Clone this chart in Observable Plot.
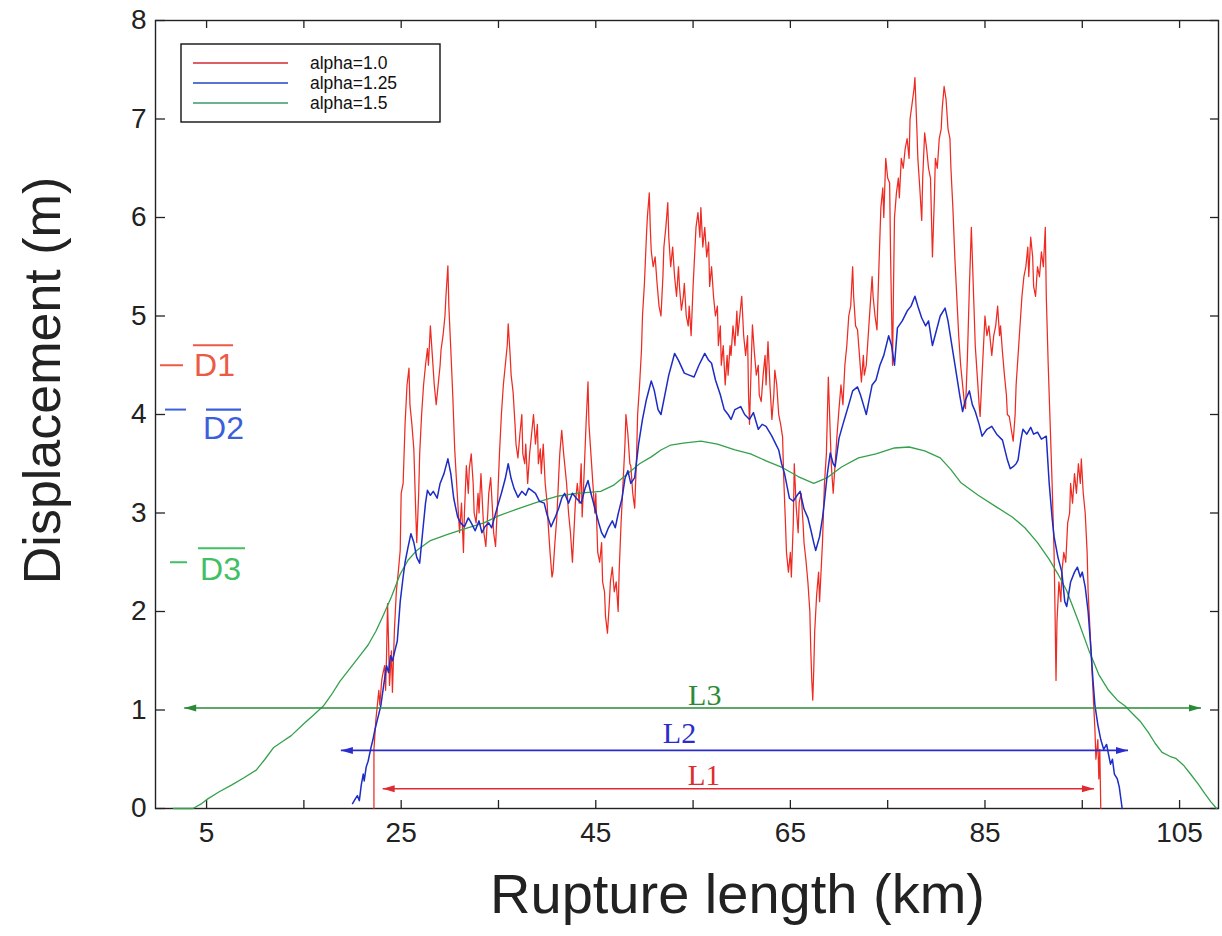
<!DOCTYPE html>
<html>
<head>
<meta charset="utf-8">
<script src="https://cdn.jsdelivr.net/npm/d3@7"></script>
<script src="https://cdn.jsdelivr.net/npm/@observablehq/plot@0.6"></script>
<style>
  body { margin: 0; background: #fff; }
  #chart { width: 1222px; height: 936px; }
  #chart svg { display: block; }
</style>
</head>
<body>
<div id="chart"></div>
<script>
// ---------- data (km, displacement m) ----------
const red = [[22.2,0],[22.2,0.6],[22.4,0.9],[22.5,1.0],[22.7,1.2],[22.8,1.05],[23.0,1.3],[23.1,1.36],[23.3,1.45],[23.4,1.2],[23.5,1.57],[23.6,2.08],[23.7,1.7],[23.8,1.25],[24.0,1.6],[24.1,1.18],[24.3,1.8],[24.5,2.2],[24.7,2.4],[24.9,2.62],[25.0,3.2],[25.2,3.3],[25.4,3.9],[25.6,4.3],[25.8,4.47],[25.9,4.1],[26.1,3.9],[26.3,3.65],[26.5,3.0],[26.6,2.7],[26.8,3.2],[26.9,3.6],[27.1,4.0],[27.3,4.3],[27.5,4.5],[27.7,4.67],[27.8,4.5],[28.0,4.9],[28.2,4.6],[28.4,4.3],[28.6,4.1],[28.8,4.3],[29.0,4.5],[29.1,4.66],[29.3,4.8],[29.5,5.0],[29.6,5.2],[29.8,5.51],[29.9,5.1],[30.1,4.66],[30.3,4.2],[30.5,3.65],[30.7,3.3],[31.0,2.8],[31.2,3.1],[31.4,2.6],[31.5,3.0],[31.7,3.48],[31.9,3.2],[32.0,3.45],[32.2,3.6],[32.4,3.3],[32.5,3.0],[32.7,2.9],[32.9,3.2],[33.0,3.0],[33.2,3.4],[33.4,3.0],[33.5,2.8],[33.7,2.66],[33.9,3.0],[34.0,3.2],[34.2,3.36],[34.4,3.0],[34.5,2.8],[34.7,2.66],[34.9,3.1],[35.1,3.6],[35.3,4.0],[35.5,4.3],[35.7,4.5],[35.9,4.7],[36.0,4.92],[36.2,4.6],[36.3,4.4],[36.5,4.23],[36.7,3.9],[36.8,3.7],[37.0,3.56],[37.2,3.8],[37.4,4.0],[37.5,3.6],[37.7,3.5],[37.8,3.7],[38.0,3.3],[38.2,3.6],[38.4,3.8],[38.6,4.0],[38.8,3.7],[39.0,3.9],[39.1,3.5],[39.3,3.65],[39.4,3.4],[39.6,3.7],[39.8,3.3],[40.0,3.1],[40.1,2.9],[40.3,2.6],[40.5,2.35],[40.6,2.4],[40.8,2.7],[41.0,2.96],[41.2,3.4],[41.3,3.6],[41.5,3.84],[41.7,3.6],[41.9,3.4],[42.0,3.3],[42.2,3.0],[42.4,2.8],[42.6,2.5],[42.8,2.9],[42.9,3.1],[43.1,3.3],[43.3,3.1],[43.5,3.5],[43.6,2.96],[43.8,3.4],[44.0,3.9],[44.2,4.33],[44.3,3.9],[44.5,3.6],[44.7,3.3],[44.9,3.0],[45.0,3.2],[45.2,2.6],[45.4,2.5],[45.6,2.7],[45.7,2.3],[45.9,2.2],[46.0,1.95],[46.2,1.78],[46.4,2.1],[46.5,2.3],[46.7,2.45],[46.9,2.2],[47.1,2.3],[47.3,2.0],[47.4,2.4],[47.6,2.9],[47.8,3.3],[48.0,3.7],[48.1,4.0],[48.3,3.8],[48.5,3.5],[48.6,3.48],[48.8,3.2],[49.0,3.05],[49.2,3.6],[49.3,4.0],[49.5,4.3],[49.7,4.66],[49.8,5.0],[50.0,5.33],[50.2,5.8],[50.3,6.0],[50.5,6.25],[50.6,5.9],[50.7,5.66],[50.9,5.5],[51.1,5.6],[51.3,5.33],[51.5,5.1],[51.7,5.0],[51.9,5.4],[52.0,5.7],[52.2,5.9],[52.4,6.15],[52.5,5.8],[52.7,5.5],[52.9,5.7],[53.1,5.4],[53.3,5.2],[53.5,5.5],[53.6,5.3],[53.8,5.06],[54.0,5.2],[54.1,5.33],[54.3,5.0],[54.5,4.9],[54.6,5.1],[54.8,4.8],[55.0,5.3],[55.2,5.7],[55.3,5.9],[55.5,6.05],[55.7,5.8],[55.8,6.1],[56.0,5.7],[56.2,5.9],[56.4,5.6],[56.6,5.75],[56.7,5.3],[56.9,5.5],[57.1,5.2],[57.3,5.0],[57.5,5.1],[57.6,4.7],[57.8,4.9],[57.9,4.5],[58.1,4.7],[58.3,4.3],[58.5,4.6],[58.6,4.4],[58.8,4.7],[58.9,4.6],[59.1,4.9],[59.3,4.7],[59.5,5.05],[59.6,4.8],[59.8,5.0],[60.0,5.2],[60.2,4.8],[60.4,4.6],[60.6,4.8],[60.7,4.2],[60.8,3.9],[61.0,4.6],[61.1,4.91],[61.3,4.63],[61.5,4.4],[61.7,4.5],[61.8,4.2],[62.0,4.13],[62.2,4.4],[62.4,4.6],[62.5,4.3],[62.7,4.74],[62.9,4.3],[63.1,3.95],[63.3,4.2],[63.4,4.45],[63.6,4.3],[63.8,4.0],[64.0,3.9],[64.2,3.77],[64.3,3.4],[64.5,2.88],[64.6,2.6],[64.8,2.4],[65.0,2.6],[65.1,2.35],[65.3,2.9],[65.4,3.5],[65.6,3.06],[65.8,2.8],[65.9,3.1],[66.1,3.2],[66.3,2.9],[66.4,2.7],[66.6,2.52],[66.8,2.3],[67.0,2.0],[67.1,1.6],[67.2,1.3],[67.3,1.1],[67.4,1.4],[67.5,1.8],[67.7,2.17],[67.9,2.4],[68.0,2.1],[68.2,2.5],[68.3,2.7],[68.5,3.3],[68.7,3.6],[68.9,4.38],[69.1,3.8],[69.2,3.5],[69.4,3.2],[69.6,3.5],[69.8,3.8],[70.0,4.06],[70.2,4.3],[70.4,4.1],[70.6,4.5],[70.8,4.7],[71.0,5.0],[71.2,5.1],[71.4,5.5],[71.5,5.2],[71.7,4.9],[71.9,4.86],[72.1,4.6],[72.3,4.33],[72.5,4.6],[72.6,4.4],[72.8,4.5],[73.0,4.8],[73.2,5.1],[73.4,5.4],[73.5,5.2],[73.7,5.0],[73.9,4.86],[74.1,5.5],[74.3,6.1],[74.5,6.3],[74.6,6.0],[74.8,6.6],[75.0,6.4],[75.2,6.35],[75.3,5.6],[75.5,4.5],[75.6,5.3],[75.7,6.0],[75.9,6.25],[76.1,6.4],[76.2,6.2],[76.4,6.6],[76.6,6.5],[76.8,6.7],[77.0,6.8],[77.2,6.6],[77.3,7.0],[77.5,7.15],[77.7,7.3],[77.8,7.42],[78.0,6.9],[78.1,6.6],[78.3,6.3],[78.5,5.97],[78.6,6.4],[78.8,6.86],[79.0,6.7],[79.2,6.5],[79.4,6.4],[79.5,6.0],[79.6,5.6],[79.8,6.2],[79.9,6.6],[80.1,6.5],[80.3,6.8],[80.5,6.9],[80.6,7.1],[80.8,7.33],[81.0,7.2],[81.2,6.9],[81.4,6.8],[81.5,6.5],[81.7,6.1],[81.9,5.6],[82.1,5.2],[82.3,4.8],[82.5,4.5],[82.7,4.3],[82.9,4.1],[83.0,4.06],[83.2,4.6],[83.4,5.3],[83.6,5.9],[83.8,5.3],[84.0,4.7],[84.2,4.4],[84.4,4.1],[84.5,3.98],[84.7,4.4],[84.9,4.8],[85.0,5.0],[85.2,4.8],[85.4,4.9],[85.7,4.6],[85.9,4.8],[86.1,4.9],[86.3,5.1],[86.5,4.8],[86.6,4.9],[86.8,4.63],[87.0,4.4],[87.2,4.2],[87.3,4.0],[87.5,3.98],[87.7,3.85],[87.9,3.73],[88.1,4.0],[88.2,4.3],[88.4,4.6],[88.6,4.9],[88.8,5.2],[89.0,5.4],[89.2,5.5],[89.4,5.7],[89.5,5.4],[89.7,5.8],[89.9,5.6],[90.0,5.3],[90.2,5.2],[90.4,5.5],[90.6,5.4],[90.8,5.65],[91.0,5.5],[91.2,5.9],[91.3,5.2],[91.5,4.5],[91.7,3.9],[91.9,3.3],[92.1,2.6],[92.2,2.0],[92.3,1.3],[92.4,1.9],[92.6,2.3],[92.8,2.1],[92.9,2.4],[93.1,2.6],[93.3,2.5],[93.5,2.9],[93.7,3.0],[93.8,3.3],[94.0,3.1],[94.2,3.4],[94.4,3.2],[94.6,3.5],[94.8,3.3],[94.9,3.55],[95.1,3.2],[95.3,3.0],[95.5,2.6],[95.6,2.2],[95.8,1.8],[95.9,1.6],[96.1,1.2],[96.3,0.8],[96.4,0.5],[96.6,0.7],[96.7,0.3],[96.8,0.6],[96.9,0]];

const blue = [[20.0,0.05],[20.3,0.1],[20.5,0.13],[20.7,0.08],[20.9,0.24],[21.1,0.35],[21.2,0.28],[21.4,0.42],[21.6,0.48],[21.9,0.62],[22.1,0.7],[22.3,0.8],[22.6,0.92],[22.9,1.04],[23.2,1.25],[23.5,1.45],[23.7,1.38],[23.9,1.55],[24.1,1.5],[24.4,1.62],[24.6,1.7],[24.9,2.1],[25.2,2.35],[25.4,2.5],[25.7,2.65],[26.0,2.79],[26.3,2.7],[26.6,2.55],[26.9,2.49],[27.2,2.8],[27.5,3.1],[27.7,3.23],[28.0,3.18],[28.3,3.22],[28.7,3.15],[29.0,3.3],[29.4,3.4],[29.8,3.55],[30.1,3.4],[30.4,3.15],[30.8,2.96],[31.1,2.9],[31.5,2.86],[31.9,2.95],[32.2,2.9],[32.6,2.82],[33.0,2.92],[33.3,2.8],[33.6,2.86],[34.0,2.9],[34.3,2.85],[34.6,2.96],[35.0,3.1],[35.3,3.2],[35.7,3.35],[36.0,3.5],[36.3,3.35],[36.6,3.25],[37.0,3.16],[37.4,3.22],[37.8,3.18],[38.1,3.25],[38.4,3.23],[38.8,3.2],[39.2,3.12],[39.7,3.1],[40.0,2.98],[40.4,2.86],[40.8,2.95],[41.2,3.05],[41.5,3.15],[41.8,3.2],[42.2,3.1],[42.6,3.2],[43.0,3.15],[43.5,3.1],[43.9,3.25],[44.2,3.33],[44.5,3.2],[44.9,3.05],[45.3,2.9],[45.6,2.8],[45.9,2.75],[46.3,2.85],[46.7,2.92],[47.0,2.85],[47.3,2.99],[47.7,3.15],[48.0,3.35],[48.3,3.43],[48.6,3.3],[49.0,3.36],[49.4,3.7],[49.8,3.95],[50.2,4.15],[50.7,4.34],[51.0,4.25],[51.4,4.05],[51.7,4.0],[52.1,4.2],[52.5,4.4],[53.1,4.62],[53.5,4.55],[54.1,4.42],[54.6,4.4],[55.1,4.38],[55.6,4.5],[56.2,4.62],[56.6,4.55],[56.9,4.52],[57.3,4.35],[57.8,4.2],[58.2,4.05],[58.6,4.0],[58.9,3.95],[59.3,4.05],[59.9,4.08],[60.3,4.0],[60.8,3.95],[61.2,4.02],[61.7,3.85],[62.1,3.9],[62.5,3.88],[63.1,3.78],[63.5,3.7],[63.8,3.64],[64.1,3.5],[64.4,3.4],[64.9,3.15],[65.3,3.12],[65.7,3.18],[66.0,3.22],[66.4,3.04],[66.8,2.95],[67.1,2.83],[67.4,2.7],[67.6,2.62],[68.0,2.76],[68.3,2.95],[68.5,3.12],[68.8,3.4],[69.1,3.61],[69.4,3.5],[69.6,3.47],[70.0,3.76],[70.4,3.9],[70.7,4.0],[71.0,4.1],[71.4,4.24],[71.9,4.28],[72.2,4.2],[72.5,4.1],[72.8,4.0],[73.1,4.15],[73.4,4.3],[73.8,4.35],[74.2,4.5],[74.6,4.6],[75.1,4.8],[75.4,4.7],[75.7,4.5],[76.0,4.88],[76.5,4.95],[77.0,5.05],[77.4,5.1],[77.8,5.2],[78.1,5.1],[78.5,4.98],[78.9,4.9],[79.2,4.95],[79.6,4.7],[80.0,4.85],[80.4,5.0],[80.9,5.08],[81.2,4.95],[81.6,4.7],[82.0,4.45],[82.4,4.2],[82.7,4.03],[83.0,4.15],[83.4,4.24],[83.7,4.1],[84.0,4.03],[84.4,3.9],[84.7,3.78],[85.2,3.85],[85.7,3.88],[86.2,3.8],[86.8,3.74],[87.3,3.54],[87.6,3.45],[87.9,3.47],[88.2,3.5],[88.4,3.54],[88.7,3.75],[88.9,3.85],[89.3,3.8],[89.7,3.87],[90.0,3.8],[90.4,3.82],[90.8,3.75],[91.3,3.78],[91.6,3.3],[91.9,2.95],[92.1,2.76],[92.5,2.55],[92.9,2.4],[93.2,2.1],[93.4,2.05],[93.8,2.3],[94.2,2.4],[94.5,2.45],[94.8,2.35],[95.0,2.4],[95.3,2.25],[95.6,2.0],[95.9,1.6],[96.1,1.3],[96.3,1.05],[96.6,0.85],[96.9,0.7],[97.2,0.6],[97.5,0.65],[97.7,0.55],[97.9,0.45],[98.1,0.5],[98.3,0.35],[98.6,0.3],[98.8,0.22],[99.1,0]];

const green = [[1.6,0],[3.6,0],[4.5,0.05],[5.0,0.09],[6.3,0.17],[7.6,0.24],[8.8,0.31],[10.1,0.39],[11.0,0.5],[11.9,0.62],[12.8,0.68],[13.7,0.74],[15.1,0.87],[16.0,0.95],[17.0,1.04],[17.8,1.15],[18.7,1.29],[19.8,1.43],[20.9,1.57],[21.6,1.66],[22.4,1.8],[23.2,1.97],[24.0,2.15],[24.9,2.38],[25.7,2.52],[26.6,2.62],[28.0,2.72],[29.7,2.78],[31.5,2.84],[33.5,2.9],[35.0,2.97],[36.9,3.04],[39.0,3.11],[41.0,3.17],[43.0,3.2],[45.5,3.22],[46.8,3.28],[48.3,3.4],[49.5,3.5],[50.7,3.57],[51.7,3.64],[52.7,3.69],[54.0,3.71],[55.8,3.73],[57.5,3.7],[59.3,3.64],[60.9,3.6],[62.5,3.53],[64.2,3.46],[65.8,3.37],[67.4,3.3],[68.8,3.36],[70.3,3.47],[72.0,3.56],[73.8,3.6],[75.7,3.66],[77.2,3.67],[78.8,3.63],[80.4,3.56],[81.5,3.44],[82.5,3.31],[84.3,3.18],[86.2,3.06],[87.8,2.96],[89.1,2.85],[90.4,2.7],[91.6,2.53],[92.5,2.38],[93.4,2.21],[94.6,1.9],[95.7,1.6],[96.7,1.36],[97.7,1.2],[98.6,1.1],[99.4,1.04],[100.2,0.96],[101.0,0.88],[101.8,0.77],[102.5,0.66],[103.2,0.57],[104.0,0.53],[104.6,0.51],[105.4,0.44],[106.2,0.34],[106.9,0.25],[107.6,0.15],[108.2,0.07],[108.8,0]];

const seriesNames = ["alpha=1.0", "alpha=1.25", "alpha=1.5"];
const xTickLabels = [5, 25, 45, 65, 85, 105];
const xTickMarks = [5, 15, 25, 35, 45, 55, 65, 75, 85, 95, 105];
const yTicks = [0, 1, 2, 3, 4, 5, 6, 7, 8];
const meanNames = ["D1", "D2", "D3"];
const meanValues = [4.5, 4.05, 2.5];
const lengthNames = ["L1", "L2", "L3"];
const lengthFrom = [23.1, 18.8, 2.7];
const lengthTo = [96.2, 99.7, 107.2];
const lengthLevel = [0.2, 0.59, 1.02];
const lengthLabelKm = [56.1, 53.6, 56.2];

// ---------- styling (not data) ----------
const lineColors = ["#ee2b22", "#1c2cc4", "#35a04c"];
const legendColors = ["#d02a36", "#2046c0", "#3a9a66"];
const dColors = ["#ec5a44", "#3b5fd8", "#40c062"];
const lColors = ["#e02a30", "#2a2ccc", "#2a8a36"];
const ML = 155, MR = 4, MT = 20, MB = 128, W = 1222, H = 936;
const PW = W - ML - MR, PH = H - MT - MB;
const SANS = "Liberation Sans, Arial, sans-serif";
const SERIF = "Liberation Serif, DejaVu Serif, serif";

const arrowHead = {
  draw(ctx) {
    ctx.moveTo(0, 0);
    ctx.lineTo(3.5, 12);
    ctx.lineTo(-3.5, 12);
    ctx.closePath();
  }
};

const dLayout = [
  {dash: [160, 183], tx: 214, tdy: 0, ol: [193, 233], oldy: -20},
  {dash: [165, 186], tx: 223, tdy: 19, ol: [206, 241], oldy: 0},
  {dash: [170, 187], tx: 220, tdy: 7, ol: [198, 245], oldy: -14}
];
const lLayout = [{dy: -13, size: 29}, {dy: -17, size: 30}, {dy: -13, size: 30}];

const marks = [];
marks.push(Plot.frame({stroke: "#222", strokeWidth: 1.4}));
marks.push(Plot.tickX(xTickMarks, {x: d => d, stroke: "#222", strokeWidth: 1.3, insetTop: PH - 8}));
marks.push(Plot.tickX(xTickMarks, {x: d => d, stroke: "#222", strokeWidth: 1.3, insetBottom: PH - 8}));
marks.push(Plot.tickY(yTicks, {y: d => d, stroke: "#222", strokeWidth: 1.3, insetRight: PW - 10}));
marks.push(Plot.tickY(yTicks, {y: d => d, stroke: "#222", strokeWidth: 1.3, insetLeft: PW - 8}));
marks.push(Plot.axisX({ticks: xTickLabels, tickSize: 0, tickPadding: 14, fontSize: 28, label: null, tickFormat: d => String(d), fill: "#222"}));
marks.push(Plot.axisY({ticks: yTicks, tickSize: 0, tickPadding: 9, fontSize: 28, label: null, tickFormat: d => String(d), fill: "#222"}));

marks.push(Plot.line(red, {x: d => d[0], y: d => d[1], stroke: lineColors[0], strokeWidth: 1.25}));
marks.push(Plot.line(green, {x: d => d[0], y: d => d[1], stroke: lineColors[2], strokeWidth: 1.3}));
marks.push(Plot.line(blue, {x: d => d[0], y: d => d[1], stroke: lineColors[1], strokeWidth: 1.5}));

lengthNames.forEach((name, i) => {
  marks.push(Plot.link([i], {x1: j => lengthFrom[j], x2: j => lengthTo[j], y1: j => lengthLevel[j], y2: j => lengthLevel[j], stroke: lColors[i], strokeWidth: 1.6}));
  marks.push(Plot.dot([i], {x: j => lengthTo[j], y: j => lengthLevel[j], symbol: arrowHead, rotate: 90, fill: lColors[i], stroke: "none", r: 4}));
  marks.push(Plot.dot([i], {x: j => lengthFrom[j], y: j => lengthLevel[j], symbol: arrowHead, rotate: -90, fill: lColors[i], stroke: "none", r: 4}));
  marks.push(Plot.text([i], {x: j => lengthLabelKm[j], y: j => lengthLevel[j], text: j => lengthNames[j], dy: lLayout[i].dy, fill: lColors[i], fontSize: lLayout[i].size, fontFamily: SERIF, textAnchor: "middle"}));
});

meanNames.forEach((name, i) => {
  const L = dLayout[i];
  marks.push(Plot.tickY([i], {y: j => meanValues[j], stroke: dColors[i], strokeWidth: 2, insetLeft: L.dash[0] - ML, insetRight: (W - MR) - L.dash[1]}));
  marks.push(Plot.tickY([i], {y: j => meanValues[j], stroke: dColors[i], strokeWidth: 2.2, dy: L.oldy, insetLeft: L.ol[0] - ML, insetRight: (W - MR) - L.ol[1]}));
  marks.push(Plot.text([i], {y: j => meanValues[j], text: j => meanNames[j], frameAnchor: "left", dx: L.tx - ML, dy: L.tdy, textAnchor: "middle", fontSize: 32, fill: dColors[i], fontFamily: SANS}));
});

marks.push(Plot.text(["Rupture length (km)"], {frameAnchor: "bottom", dx: 737 - (ML + PW / 2), dy: 104, fontSize: 56, fill: "#222", textAnchor: "middle", fontFamily: SANS}));
marks.push(Plot.text(["Displacement (m)"], {frameAnchor: "left", rotate: -90, dx: 43 - ML, dy: 380 - (MT + PH / 2), fontSize: 52, fill: "#222", textAnchor: "middle", fontFamily: SANS}));

const svg = Plot.plot({
  width: W, height: H,
  marginLeft: ML, marginRight: MR, marginTop: MT, marginBottom: MB,
  x: {domain: [-0.25, 109.0], axis: null},
  y: {domain: [0, 8], axis: null},
  style: {fontFamily: SANS, background: "white", overflow: "visible"},
  marks
});

// legend box inside the plot (top-left)
const g = d3.select(svg).append("g").attr("class", "legend").attr("text-anchor", "start");
g.append("rect").attr("x", 181).attr("y", 44).attr("width", 259).attr("height", 78)
  .attr("fill", "white").attr("stroke", "#111").attr("stroke-width", 1.4);
seriesNames.forEach((n, i) => {
  const yy = 63 + i * 20;
  g.append("line").attr("x1", 193).attr("x2", 288).attr("y1", yy).attr("y2", yy)
    .attr("stroke", legendColors[i]).attr("stroke-width", 1.4);
  g.append("text").attr("x", 310).attr("y", yy).attr("dy", "0.36em")
    .attr("text-anchor", "start")
    .attr("font-size", 17.5).attr("fill", "#111")
    .attr("font-family", SANS).text(n);
});

document.getElementById("chart").appendChild(svg);
</script>
</body>
</html>
